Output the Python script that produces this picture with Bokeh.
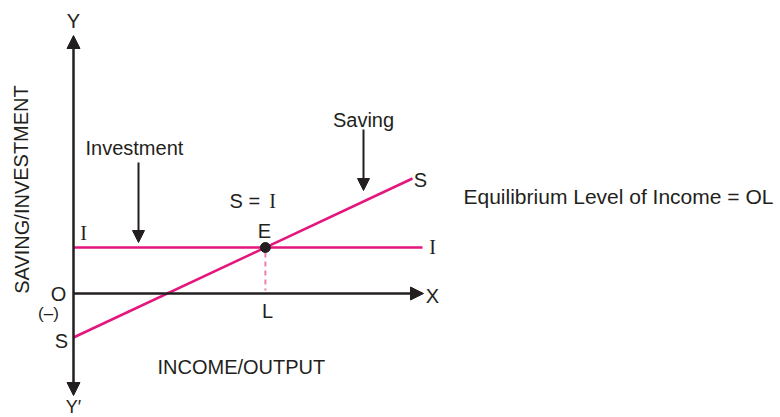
import math
from bokeh.plotting import figure
from bokeh.models import Range1d, Arrow, NormalHead
from bokeh.core.properties import value
from bokeh.embed import file_html
from bokeh.resources import INLINE

# ---- data (diagram units, origin O at 0,0) ----
income = [0, 339]
saving = [-44, 115]
inv_income = [0, 349]
investment = [46, 46]
x_axis_end = 350
y_axis_top = 258
y_axis_bottom = -102

# equilibrium where saving line meets investment line
slope = (saving[1] - saving[0]) / (income[1] - income[0])
eq_income = income[0] + (investment[0] - saving[0]) / slope
eq_level = investment[0]

PINK = "#e4167e"
DARK = "#231f20"
SANS = value("Liberation Sans")
SERIF = value("Liberation Serif")

p = figure(width=780, height=417, x_range=Range1d(-73, 707), y_range=Range1d(-124, 293),
           output_backend="svg", toolbar_location=None, min_border=0,
           x_axis_location=None, y_axis_location=None)
p.grid.visible = False
p.outline_line_color = None
p.background_fill_color = "white"

# axes
p.add_layout(Arrow(x_start=0, y_start=y_axis_bottom, x_end=0, y_end=y_axis_top,
                   line_width=2.5, line_color=DARK,
                   start=NormalHead(size=13, fill_color=DARK, line_color=DARK),
                   end=NormalHead(size=13, fill_color=DARK, line_color=DARK)))
p.add_layout(Arrow(x_start=0, y_start=0, x_end=x_axis_end, y_end=0,
                   line_width=2.5, line_color=DARK,
                   end=NormalHead(size=13, fill_color=DARK, line_color=DARK)))

# curves
p.line(inv_income, investment, line_color=PINK, line_width=2.5)
p.line(income, saving, line_color=PINK, line_width=2.5)
p.segment(x0=[eq_income], y0=[eq_level - 5], x1=[eq_income], y1=[3],
          line_color="#ee7fb2", line_width=2, line_dash="5 4")
p.scatter([eq_income], [eq_level], size=10, fill_color=DARK, line_color=DARK)

# pointer arrows
p.add_layout(Arrow(x_start=65, y_start=131, x_end=65, y_end=51, line_width=2, line_color=DARK,
                   end=NormalHead(size=12, fill_color=DARK, line_color=DARK)))
p.add_layout(Arrow(x_start=290, y_start=164, x_end=290, y_end=103, line_width=2, line_color=DARK,
                   end=NormalHead(size=12, fill_color=DARK, line_color=DARK)))

fs = value("20px")
# sans labels centered
p.text(x=[0, -15, -12, 191, 194, 290, 347, 359],
       y=[273, 0, -47, 63, -17, 174, 114, -2],
       text=["Y", "O", "S", "E", "L", "Saving", "S", "X"],
       text_font=SANS, text_font_size=fs, text_align="center", text_baseline="middle",
       text_color=DARK)
p.text(x=[0], y=[-113], text=["Y\u2032"], text_font=SANS, text_font_size=value("18px"),
       text_align="center", text_baseline="middle", text_color=DARK)
p.text(x=[-25], y=[-20], text=["(\u2013)"], text_font=SANS, text_font_size=value("17px"),
       text_align="center", text_baseline="middle", text_color=DARK)
# left-aligned sans labels
p.text(x=[12, 84, 156], y=[146, -73, 93],
       text=["Investment", "INCOME/OUTPUT", "S ="],
       text_font=SANS, text_font_size=fs, text_align="left", text_baseline="middle",
       text_color=DARK)
p.text(x=[390], y=[97], text=["Equilibrium Level of Income = OL"],
       text_font=SANS, text_font_size=value("21px"), text_align="left", text_baseline="middle",
       text_color=DARK)
# serif I labels
p.text(x=[10, 359, 199], y=[61, 47, 93], text=["I", "I", "I"],
       text_font=SERIF, text_font_size=fs, text_align="center", text_baseline="middle",
       text_color=DARK)
# vertical axis title
p.text(x=[-52], y=[104], text=["SAVING/INVESTMENT"], angle=[math.pi / 2],
       text_font=SANS, text_font_size=fs, text_align="center", text_baseline="middle",
       text_color=DARK)

open("out.html", "w").write(file_html(p, INLINE))
